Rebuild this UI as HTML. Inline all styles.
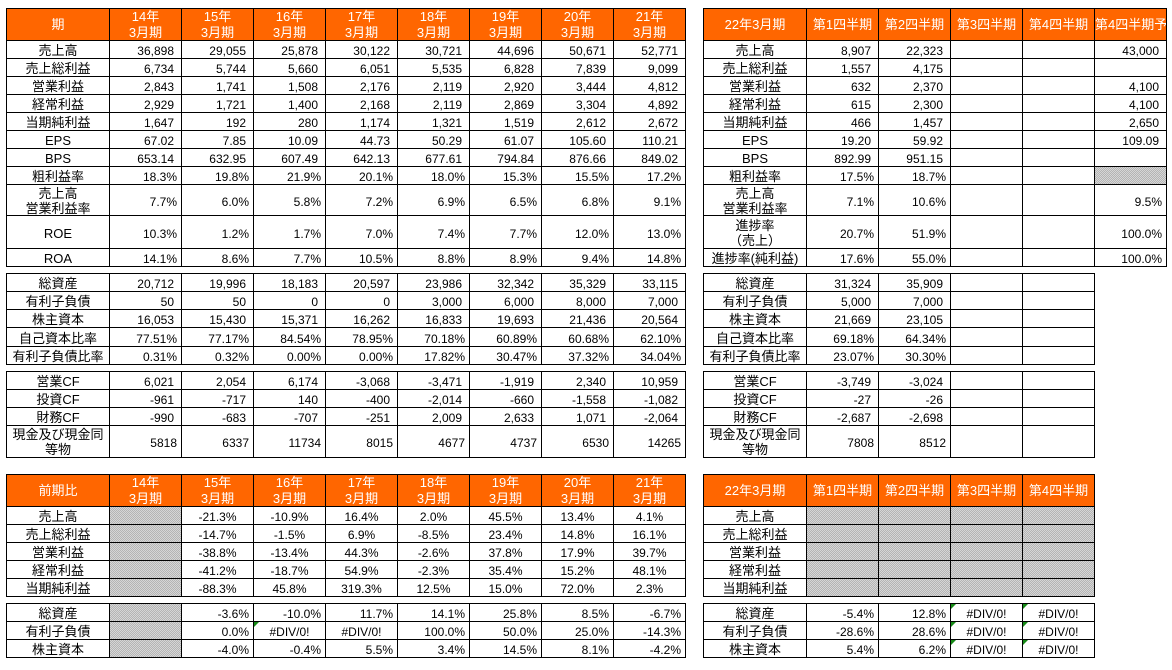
<!DOCTYPE html>
<html><head><meta charset="utf-8">
<style>
*{margin:0;padding:0;box-sizing:border-box}
html,body{width:1172px;height:670px;background:#fff;overflow:hidden}
body{position:relative;font-family:"Liberation Sans","Noto Sans CJK JP",sans-serif;font-size:12px;color:#000}
.t{position:absolute;display:grid;border-left:1px solid #000;border-top:1px solid #000}
.L{grid-template-columns:103px repeat(8,72px)}
.R6{grid-template-columns:103px repeat(5,72px)}
.R5{grid-template-columns:103px repeat(4,72px)}
.t>div{border-right:1px solid #000;border-bottom:1px solid #000;display:flex;align-items:center;justify-content:flex-end;padding-top:3px;line-height:18px;white-space:nowrap;overflow:hidden;position:relative}
.t>div.l{justify-content:center;font-size:13px;text-align:center}
.t>div.l2{justify-content:center;font-size:13px;text-align:center;line-height:15px;padding-top:1px}
.t>div.n{padding-right:7px}
.t>div.p{padding-right:4px}
.t>div.c{justify-content:center}
.t>div.h{display:block;overflow:visible;background:#ff6600;color:#fff;text-align:center;font-size:13px;line-height:16px;padding-top:0}
.t>div.h1{line-height:30px;padding-top:1px}
.t>div.hl{text-align:left;overflow:hidden}
.t>div.g{background:#c6c6c6 repeating-conic-gradient(#b4b4b4 0 25%,#d6d6d6 0 50%) 0 0/2px 2px}
.t>div.e::before{content:"";position:absolute;left:0;top:0;width:0;height:0;border-top:5px solid #168a16;border-right:5px solid transparent}
</style></head><body>

<!-- Top-left main table -->
<div class="t L" style="left:6px;top:8px;grid-template-rows:32px repeat(8,18px) 31px 33px 18px">
<div class="h h1">期</div><div class="h">14年<br>3月期</div><div class="h">15年<br>3月期</div><div class="h">16年<br>3月期</div><div class="h">17年<br>3月期</div><div class="h">18年<br>3月期</div><div class="h">19年<br>3月期</div><div class="h">20年<br>3月期</div><div class="h">21年<br>3月期</div>
<div class="l">売上高</div><div class="n">36,898</div><div class="n">29,055</div><div class="n">25,878</div><div class="n">30,122</div><div class="n">30,721</div><div class="n">44,696</div><div class="n">50,671</div><div class="n">52,771</div>
<div class="l">売上総利益</div><div class="n">6,734</div><div class="n">5,744</div><div class="n">5,660</div><div class="n">6,051</div><div class="n">5,535</div><div class="n">6,828</div><div class="n">7,839</div><div class="n">9,099</div>
<div class="l">営業利益</div><div class="n">2,843</div><div class="n">1,741</div><div class="n">1,508</div><div class="n">2,176</div><div class="n">2,119</div><div class="n">2,920</div><div class="n">3,444</div><div class="n">4,812</div>
<div class="l">経常利益</div><div class="n">2,929</div><div class="n">1,721</div><div class="n">1,400</div><div class="n">2,168</div><div class="n">2,119</div><div class="n">2,869</div><div class="n">3,304</div><div class="n">4,892</div>
<div class="l">当期純利益</div><div class="n">1,647</div><div class="n">192</div><div class="n">280</div><div class="n">1,174</div><div class="n">1,321</div><div class="n">1,519</div><div class="n">2,612</div><div class="n">2,672</div>
<div class="l">EPS</div><div class="n">67.02</div><div class="n">7.85</div><div class="n">10.09</div><div class="n">44.73</div><div class="n">50.29</div><div class="n">61.07</div><div class="n">105.60</div><div class="n">110.21</div>
<div class="l">BPS</div><div class="n">653.14</div><div class="n">632.95</div><div class="n">607.49</div><div class="n">642.13</div><div class="n">677.61</div><div class="n">794.84</div><div class="n">876.66</div><div class="n">849.02</div>
<div class="l">粗利益率</div><div class="p">18.3%</div><div class="p">19.8%</div><div class="p">21.9%</div><div class="p">20.1%</div><div class="p">18.0%</div><div class="p">15.3%</div><div class="p">15.5%</div><div class="p">17.2%</div>
<div class="l2">売上高<br>営業利益率</div><div class="p">7.7%</div><div class="p">6.0%</div><div class="p">5.8%</div><div class="p">7.2%</div><div class="p">6.9%</div><div class="p">6.5%</div><div class="p">6.8%</div><div class="p">9.1%</div>
<div class="l">ROE</div><div class="p">10.3%</div><div class="p">1.2%</div><div class="p">1.7%</div><div class="p">7.0%</div><div class="p">7.4%</div><div class="p">7.7%</div><div class="p">12.0%</div><div class="p">13.0%</div>
<div class="l">ROA</div><div class="p">14.1%</div><div class="p">8.6%</div><div class="p">7.7%</div><div class="p">10.5%</div><div class="p">8.8%</div><div class="p">8.9%</div><div class="p">9.4%</div><div class="p">14.8%</div>
</div>

<!-- Left balance -->
<div class="t L" style="left:6px;top:273px;grid-template-rows:18px 18px 18px 19px 18px">
<div class="l">総資産</div><div class="n">20,712</div><div class="n">19,996</div><div class="n">18,183</div><div class="n">20,597</div><div class="n">23,986</div><div class="n">32,342</div><div class="n">35,329</div><div class="n">33,115</div>
<div class="l">有利子負債</div><div class="n">50</div><div class="n">50</div><div class="n">0</div><div class="n">0</div><div class="n">3,000</div><div class="n">6,000</div><div class="n">8,000</div><div class="n">7,000</div>
<div class="l">株主資本</div><div class="n">16,053</div><div class="n">15,430</div><div class="n">15,371</div><div class="n">16,262</div><div class="n">16,833</div><div class="n">19,693</div><div class="n">21,436</div><div class="n">20,564</div>
<div class="l">自己資本比率</div><div class="p">77.51%</div><div class="p">77.17%</div><div class="p">84.54%</div><div class="p">78.95%</div><div class="p">70.18%</div><div class="p">60.89%</div><div class="p">60.68%</div><div class="p">62.10%</div>
<div class="l">有利子負債比率</div><div class="p">0.31%</div><div class="p">0.32%</div><div class="p">0.00%</div><div class="p">0.00%</div><div class="p">17.82%</div><div class="p">30.47%</div><div class="p">37.32%</div><div class="p">34.04%</div>
</div>

<!-- Left CF -->
<div class="t L" style="left:6px;top:371px;grid-template-rows:18px 18px 18px 32px">
<div class="l">営業CF</div><div class="n">6,021</div><div class="n">2,054</div><div class="n">6,174</div><div class="n">-3,068</div><div class="n">-3,471</div><div class="n">-1,919</div><div class="n">2,340</div><div class="n">10,959</div>
<div class="l">投資CF</div><div class="n">-961</div><div class="n">-717</div><div class="n">140</div><div class="n">-400</div><div class="n">-2,014</div><div class="n">-660</div><div class="n">-1,558</div><div class="n">-1,082</div>
<div class="l">財務CF</div><div class="n">-990</div><div class="n">-683</div><div class="n">-707</div><div class="n">-251</div><div class="n">2,009</div><div class="n">2,633</div><div class="n">1,071</div><div class="n">-2,064</div>
<div class="l2">現金及び現金同<br>等物</div><div class="p">5818</div><div class="p">6337</div><div class="p">11734</div><div class="p">8015</div><div class="p">4677</div><div class="p">4737</div><div class="p">6530</div><div class="p">14265</div>
</div>

<!-- Left 前期比 -->
<div class="t L" style="left:6px;top:474px;grid-template-rows:32px repeat(5,18px)">
<div class="h h1">前期比</div><div class="h">14年<br>3月期</div><div class="h">15年<br>3月期</div><div class="h">16年<br>3月期</div><div class="h">17年<br>3月期</div><div class="h">18年<br>3月期</div><div class="h">19年<br>3月期</div><div class="h">20年<br>3月期</div><div class="h">21年<br>3月期</div>
<div class="l">売上高</div><div class="g"></div><div class="c">-21.3%</div><div class="c">-10.9%</div><div class="c">16.4%</div><div class="c">2.0%</div><div class="c">45.5%</div><div class="c">13.4%</div><div class="c">4.1%</div>
<div class="l">売上総利益</div><div class="g"></div><div class="c">-14.7%</div><div class="c">-1.5%</div><div class="c">6.9%</div><div class="c">-8.5%</div><div class="c">23.4%</div><div class="c">14.8%</div><div class="c">16.1%</div>
<div class="l">営業利益</div><div class="g"></div><div class="c">-38.8%</div><div class="c">-13.4%</div><div class="c">44.3%</div><div class="c">-2.6%</div><div class="c">37.8%</div><div class="c">17.9%</div><div class="c">39.7%</div>
<div class="l">経常利益</div><div class="g"></div><div class="c">-41.2%</div><div class="c">-18.7%</div><div class="c">54.9%</div><div class="c">-2.3%</div><div class="c">35.4%</div><div class="c">15.2%</div><div class="c">48.1%</div>
<div class="l">当期純利益</div><div class="g"></div><div class="c">-88.3%</div><div class="c">45.8%</div><div class="c">319.3%</div><div class="c">12.5%</div><div class="c">15.0%</div><div class="c">72.0%</div><div class="c">2.3%</div>
</div>

<!-- Left lower balance -->
<div class="t L" style="left:6px;top:603px;grid-template-rows:repeat(3,18px)">
<div class="l">総資産</div><div class="g"></div><div class="p">-3.6%</div><div class="p">-10.0%</div><div class="p">11.7%</div><div class="p">14.1%</div><div class="p">25.8%</div><div class="p">8.5%</div><div class="p">-6.7%</div>
<div class="l">有利子負債</div><div class="g"></div><div class="p">0.0%</div><div class="c e">#DIV/0!</div><div class="c">#DIV/0!</div><div class="p">100.0%</div><div class="p">50.0%</div><div class="p">25.0%</div><div class="p">-14.3%</div>
<div class="l">株主資本</div><div class="g"></div><div class="p">-4.0%</div><div class="p">-0.4%</div><div class="p">5.5%</div><div class="p">3.4%</div><div class="p">14.5%</div><div class="p">8.1%</div><div class="p">-4.2%</div>
</div>

<!-- Right main table -->
<div class="t R6" style="left:703px;top:8px;grid-template-rows:32px repeat(8,18px) 31px 33px 18px">
<div class="h h1">22年3月期</div><div class="h h1">第1四半期</div><div class="h h1">第2四半期</div><div class="h h1">第3四半期</div><div class="h h1">第4四半期</div><div class="h h1 hl">第4四半期予想</div>
<div class="l">売上高</div><div class="n">8,907</div><div class="n">22,323</div><div></div><div></div><div class="n">43,000</div>
<div class="l">売上総利益</div><div class="n">1,557</div><div class="n">4,175</div><div></div><div></div><div></div>
<div class="l">営業利益</div><div class="n">632</div><div class="n">2,370</div><div></div><div></div><div class="n">4,100</div>
<div class="l">経常利益</div><div class="n">615</div><div class="n">2,300</div><div></div><div></div><div class="n">4,100</div>
<div class="l">当期純利益</div><div class="n">466</div><div class="n">1,457</div><div></div><div></div><div class="n">2,650</div>
<div class="l">EPS</div><div class="n">19.20</div><div class="n">59.92</div><div></div><div></div><div class="n">109.09</div>
<div class="l">BPS</div><div class="n">892.99</div><div class="n">951.15</div><div></div><div></div><div></div>
<div class="l">粗利益率</div><div class="p">17.5%</div><div class="p">18.7%</div><div></div><div></div><div class="g"></div>
<div class="l2">売上高<br>営業利益率</div><div class="p">7.1%</div><div class="p">10.6%</div><div></div><div></div><div class="p">9.5%</div>
<div class="l2">進捗率<br>（売上）</div><div class="p">20.7%</div><div class="p">51.9%</div><div></div><div></div><div class="p">100.0%</div>
<div class="l">進捗率(純利益)</div><div class="p">17.6%</div><div class="p">55.0%</div><div></div><div></div><div class="p">100.0%</div>
</div>

<!-- Right balance -->
<div class="t R5" style="left:703px;top:273px;grid-template-rows:18px 18px 18px 19px 18px">
<div class="l">総資産</div><div class="n">31,324</div><div class="n">35,909</div><div></div><div></div>
<div class="l">有利子負債</div><div class="n">5,000</div><div class="n">7,000</div><div></div><div></div>
<div class="l">株主資本</div><div class="n">21,669</div><div class="n">23,105</div><div></div><div></div>
<div class="l">自己資本比率</div><div class="p">69.18%</div><div class="p">64.34%</div><div></div><div></div>
<div class="l">有利子負債比率</div><div class="p">23.07%</div><div class="p">30.30%</div><div></div><div></div>
</div>

<!-- Right CF -->
<div class="t R5" style="left:703px;top:371px;grid-template-rows:18px 18px 18px 32px">
<div class="l">営業CF</div><div class="n">-3,749</div><div class="n">-3,024</div><div></div><div></div>
<div class="l">投資CF</div><div class="n">-27</div><div class="n">-26</div><div></div><div></div>
<div class="l">財務CF</div><div class="n">-2,687</div><div class="n">-2,698</div><div></div><div></div>
<div class="l2">現金及び現金同<br>等物</div><div class="p">7808</div><div class="p">8512</div><div></div><div></div>
</div>

<!-- Right 前期比 -->
<div class="t R5" style="left:703px;top:474px;grid-template-rows:32px repeat(5,18px)">
<div class="h h1">22年3月期</div><div class="h h1">第1四半期</div><div class="h h1">第2四半期</div><div class="h h1">第3四半期</div><div class="h h1">第4四半期</div>
<div class="l">売上高</div><div class="g"></div><div class="g"></div><div class="g"></div><div class="g"></div>
<div class="l">売上総利益</div><div class="g"></div><div class="g"></div><div class="g"></div><div class="g"></div>
<div class="l">営業利益</div><div class="g"></div><div class="g"></div><div class="g"></div><div class="g"></div>
<div class="l">経常利益</div><div class="g"></div><div class="g"></div><div class="g"></div><div class="g"></div>
<div class="l">当期純利益</div><div class="g"></div><div class="g"></div><div class="g"></div><div class="g"></div>
</div>

<!-- Right lower balance -->
<div class="t R5" style="left:703px;top:603px;grid-template-rows:repeat(3,18px)">
<div class="l">総資産</div><div class="p">-5.4%</div><div class="p">12.8%</div><div class="c e">#DIV/0!</div><div class="c e">#DIV/0!</div>
<div class="l">有利子負債</div><div class="p">-28.6%</div><div class="p">28.6%</div><div class="c e">#DIV/0!</div><div class="c e">#DIV/0!</div>
<div class="l">株主資本</div><div class="p">5.4%</div><div class="p">6.2%</div><div class="c e">#DIV/0!</div><div class="c e">#DIV/0!</div>
</div>

</body></html>
